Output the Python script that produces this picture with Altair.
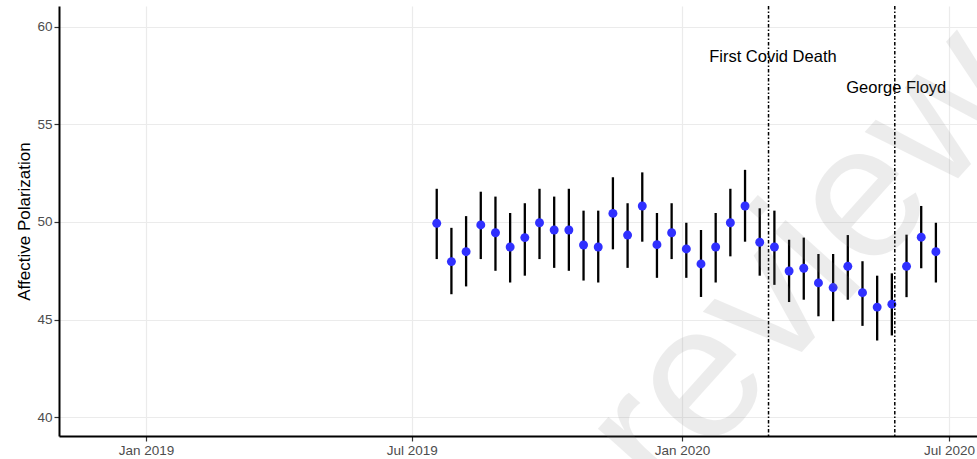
import altair as alt
import pandas as pd

# ---- data ----
dates = [
    "2019-07-18", "2019-07-28", "2019-08-07", "2019-08-17", "2019-08-27",
    "2019-09-06", "2019-09-16", "2019-09-26", "2019-10-06", "2019-10-16",
    "2019-10-26", "2019-11-05", "2019-11-15", "2019-11-25", "2019-12-05",
    "2019-12-15", "2019-12-25", "2020-01-04", "2020-01-14", "2020-01-24",
    "2020-02-03", "2020-02-13", "2020-02-23", "2020-03-04", "2020-03-14",
    "2020-03-24", "2020-04-03", "2020-04-13", "2020-04-23", "2020-05-03",
    "2020-05-13", "2020-05-23", "2020-06-02", "2020-06-12", "2020-06-22",
]
estimate = [
    49.93, 47.97, 48.48, 49.85, 49.45, 48.72, 49.20, 49.96, 49.59, 49.59,
    48.82, 48.72, 50.44, 49.33, 50.82, 48.84, 49.45, 48.62, 47.85, 48.72,
    49.96, 50.82, 48.96, 48.72, 47.49, 47.63, 46.88, 46.64, 47.73, 46.38,
    45.64, 45.79, 47.73, 49.22, 48.48,
]
upper = [
    51.70, 49.70, 50.30, 51.55, 51.30, 50.46, 50.96, 51.70, 51.30, 51.70,
    50.58, 50.58, 52.29, 50.96, 52.54, 50.46, 50.96, 49.96, 49.59, 50.46,
    51.70, 52.67, 50.70, 50.58, 49.09, 49.20, 48.36, 48.36, 49.33, 47.99,
    47.25, 47.37, 49.35, 50.82, 49.96,
]
lower = [
    48.10, 46.30, 46.70, 48.10, 47.50, 46.90, 47.25, 48.10, 47.65, 47.50,
    47.00, 46.90, 48.60, 47.65, 48.99, 47.14, 48.10, 47.14, 46.16, 46.90,
    48.24, 48.99, 47.25, 46.78, 45.90, 46.02, 45.17, 44.92, 46.02, 44.68,
    43.93, 44.19, 46.15, 47.63, 46.90,
]

event_dates = ["2020-02-29", "2020-05-25"]
event_labels = ["First Covid Death", "George Floyd"]
label_dates = ["2020-03-03", "2020-05-26"]
label_values = [58.45, 56.86]

# faint watermark of the preprint server (cut by the image edge, as in the reference)
watermark_text = ["review"]
watermark_date = ["2020-03-25"]
watermark_value = [47.9]

x_ticks = [(2019, 1), (2019, 7), (2020, 1), (2020, 7)]
y_ticks = [40, 45, 50, 55, 60]

df = pd.DataFrame({"date": dates, "est": estimate, "lo": lower, "hi": upper})
ev = pd.DataFrame({"date": event_dates})
lab = pd.DataFrame({"date": label_dates, "val": label_values, "label": event_labels})
wm = pd.DataFrame({"date": watermark_date, "val": watermark_value, "label": watermark_text})

FONT = "Liberation Sans"

x_scale = alt.Scale(
    type="utc",
    domain=[
        alt.DateTime(year=2018, month=11, date=2, hours=17, utc=True),
        alt.DateTime(year=2020, month=7, date=20, utc=True),
    ],
)
y_scale = alt.Scale(domain=[39.04, 61.06], nice=False, zero=False)

x_axis = alt.Axis(
    values=[alt.DateTime(year=y, month=m, date=1, utc=True) for y, m in x_ticks],
    labelExpr="utcFormat(datum.value, '%b %Y')",
    title=None,
    labelFlush=False,
    labelOverlap=False,
    labelBound=False,
)
y_axis = alt.Axis(values=y_ticks, title="Affective Polarization")

X = alt.X("date:T", scale=x_scale, axis=x_axis)
Y = alt.Y("est:Q", scale=y_scale, axis=y_axis)

watermark = alt.Chart(wm).mark_text(
    font=FONT, fontSize=190, color="#808080", opacity=0.14,
    align="center", baseline="middle", angle=312
).encode(
    x=alt.X("date:T", scale=x_scale, axis=x_axis),
    y=alt.Y("val:Q", scale=y_scale, axis=y_axis),
    text="label:N",
)

bars = alt.Chart(df).mark_rule(color="black", strokeWidth=2.3).encode(
    x=alt.X("date:T", scale=x_scale, axis=x_axis),
    y=alt.Y("lo:Q", scale=y_scale, axis=y_axis),
    y2="hi:Q",
)
points = alt.Chart(df).mark_circle(size=80, color="#3030FF", opacity=1).encode(x=X, y=Y)

vlines = alt.Chart(ev).mark_rule(
    color="black", strokeWidth=1.5, strokeDash=[3.5, 2, 1.5, 2]
).encode(x=alt.X("date:T", scale=x_scale, axis=x_axis))

texts = alt.Chart(lab).mark_text(
    font=FONT, fontSize=16.5, color="black", align="center", baseline="middle"
).encode(
    x=alt.X("date:T", scale=x_scale, axis=x_axis),
    y=alt.Y("val:Q", scale=y_scale, axis=y_axis),
    text="label:N",
)

chart = (
    alt.layer(bars, points, vlines, texts, watermark)
    .properties(
        width=918,
        height=430,
        autosize=alt.AutoSizeParams(type="none"),
        padding={"left": 59, "top": 6, "right": 0, "bottom": 23},
    )
    .configure_view(stroke=None)
    .configure_axis(
        domainColor="black",
        domainWidth=2,
        tickColor="#333333",
        tickSize=5,
        tickWidth=1.2,
        labelColor="#4D4D4D",
        labelFont=FONT,
        labelFontSize=13.5,
        labelPadding=2,
        gridColor="#EBEBEB",
        gridWidth=1.2,
        titleFont=FONT,
        titleFontSize=17,
        titleFontWeight="normal",
        titleColor="black",
    )
    .configure_axisY(titlePadding=3)
)

chart.save("out.html", embed_options={"renderer": "svg", "actions": False})
